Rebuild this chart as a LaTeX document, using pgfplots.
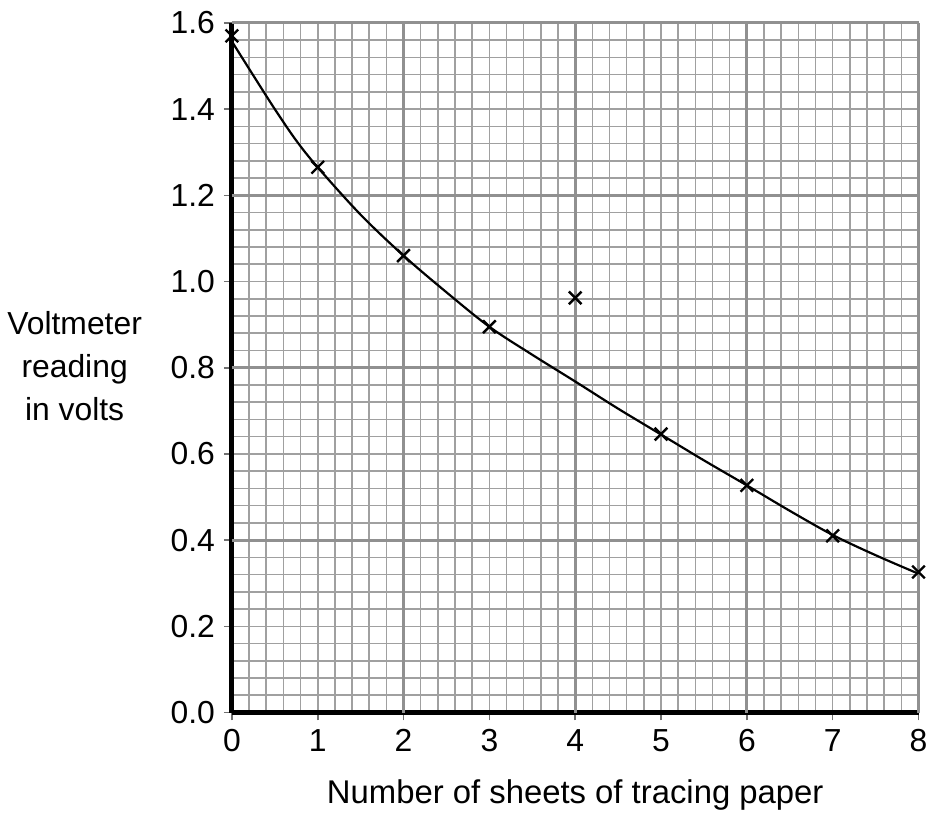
\documentclass[border=0pt]{standalone}
\usepackage{fontspec}
\setmainfont{Liberation Sans}
\usepackage{pgfplots}
\pgfplotsset{compat=1.18}
\definecolor{gridgray}{RGB}{160,160,160}
\begin{document}
\begin{tikzpicture}
\begin{axis}[
  width=345pt, height=346.5pt, scale only axis,
  xmin=0, xmax=8, ymin=0, ymax=1.6,
  axis lines=left,
  axis line style={-, line width=2.4pt, black},
  tick align=outside,
  xtick={0,1,2,3,4,5,6,7,8},
  ytick={0,0.2,0.4,0.6,0.8,1.0,1.2,1.4,1.6},
  minor x tick num=4,
  minor y tick num=4,
  minor tick length=0pt,
  major tick length=4pt,
  tick style={line width=0.8pt, gridgray!70!black},
  grid=both,
  minor grid style={gridgray, line width=0.8pt},
  major grid style={gridgray, line width=0.8pt},
  extra x ticks={2,4,6,8},
  extra y ticks={0.4,0.8,1.2,1.6},
  extra x tick labels={},
  extra y tick labels={},
  extra tick style={major tick length=0pt, major grid style={gridgray!90!black, line width=1.5pt}},
  font=\fontsize{16}{21.5}\selectfont,
  /pgf/number format/assume math mode=true,
  yticklabel style={xshift=-1pt, /pgf/number format/.cd, fixed, fixed zerofill, precision=1, /tikz/.cd},
  xticklabel style={yshift=-1pt},
  xlabel={Number of sheets of tracing paper},
  xlabel style={yshift=-3pt, font=\fontsize{16.5}{21.5}\selectfont},
  clip=false,
]
\path (rel axis cs:-0.3377,-0.1342) rectangle (rel axis cs:1.0159,1.0332);
\addplot[black, line width=1.1pt, smooth, tension=0.55] coordinates {
 (0,1.557) (0.25,1.478) (0.5,1.400) (0.75,1.327) (1,1.265) (1.5,1.155) (2,1.06)
 (2.5,0.975) (3,0.895) (3.5,0.830) (4,0.768) (4.5,0.705) (5,0.645)
 (5.5,0.585) (6,0.527) (6.5,0.468) (7,0.412) (7.5,0.365) (8,0.322)
};
\addplot[only marks, mark=x, mark size=4.5pt, mark options={line width=1.2pt, black}] coordinates {
 (0,1.57) (1,1.265) (2,1.06) (3,0.895) (4,0.962) (5,0.646) (6,0.527) (7,0.41) (8,0.326)
};
\node[align=center, font=\fontsize{16}{21.5}\selectfont] at (rel axis cs:-0.229,0.502) {Voltmeter\\reading\\in volts};
\end{axis}
\end{tikzpicture}
\end{document}
